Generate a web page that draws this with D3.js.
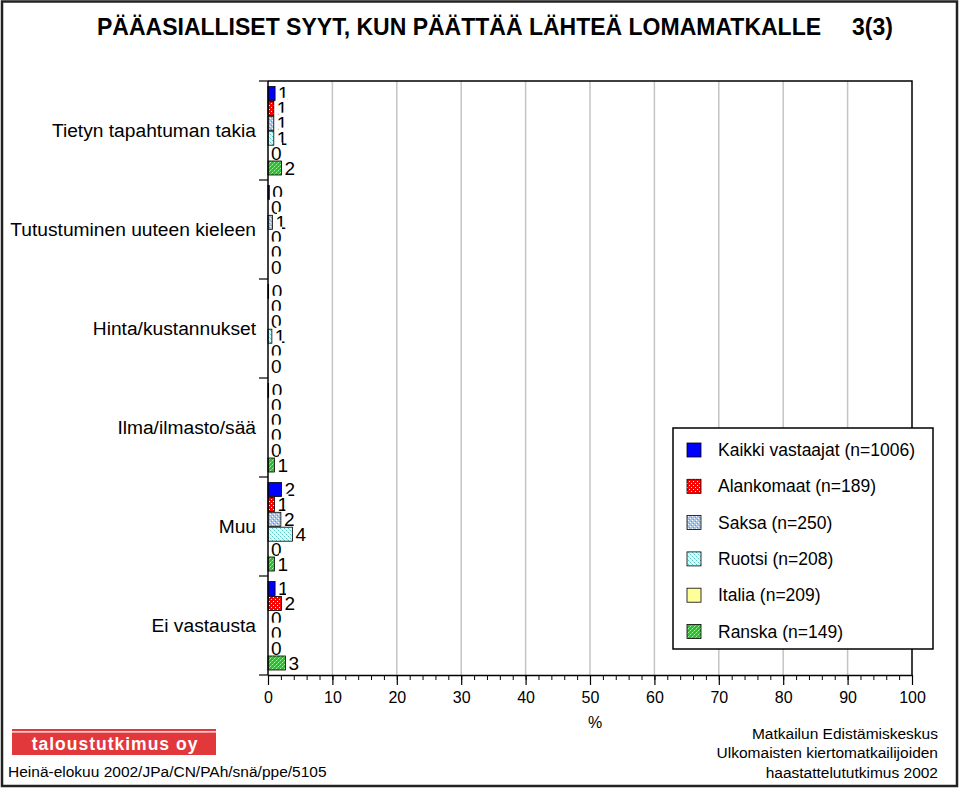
<!DOCTYPE html>
<html><head><meta charset="utf-8">
<script src="https://cdn.jsdelivr.net/npm/d3@7"></script>
<style>
body{margin:0;background:#fff}
svg{display:block}
text{font-family:"Liberation Sans",Arial,sans-serif;fill:#000}
</style>
</head><body>
<svg id="c" width="960" height="788"></svg>
<script>
// ---- data ----
const categories = ["Tietyn tapahtuman takia","Tutustuminen uuteen kieleen","Hinta/kustannukset","Ilma/ilmasto/sää","Muu","Ei vastausta"];
const seriesNames = ["Kaikki vastaajat (n=1006)","Alankomaat (n=189)","Saksa (n=250)","Ruotsi (n=208)","Italia (n=209)","Ranska (n=149)"];
const kaikki     = [1.1, 0.2, 0.1, 0.1, 2.1, 1.1];
const alankomaat = [0.9, 0.0, 0.0, 0.0, 1.0, 2.1];
const saksa      = [0.9, 0.7, 0.0, 0.0, 2.0, 0.0];
const ruotsi     = [0.9, 0.0, 0.6, 0.0, 3.8, 0.0];
const italia     = [0.0, 0.0, 0.0, 0.0, 0.0, 0.0];
const ranska     = [2.1, 0.0, 0.0, 1.0, 1.0, 2.7];
const xTicks = [0,10,20,30,40,50,60,70,80,90,100];
const xMinorTicks = d3.range(0, 101, 2);
const titleText = "PÄÄASIALLISET SYYT, KUN PÄÄTTÄÄ LÄHTEÄ LOMAMATKALLE";
const pageText = "3(3)";
const xLabel = "%";
const logoText = "taloustutkimus oy";
const footLeft = "Heinä-elokuu 2002/JPa/CN/PAh/snä/ppe/5105";
const footRight = ["Matkailun Edistämiskeskus","Ulkomaisten kiertomatkailijoiden","haastattelututkimus 2002"];

const seriesValues = [kaikki, alankomaat, saksa, ruotsi, italia, ranska];
const fills = ["#0000ff","url(#pRed)","url(#pSaksa)","url(#pRuotsi)","#ffff99","url(#pGreen)"];

const svg = d3.select("#c");

// ---- patterns ----
const defs = svg.append("defs");
function pat(id, base, dots, size){
  const p = defs.append("pattern").attr("id", id).attr("patternUnits","userSpaceOnUse")
    .attr("width", size).attr("height", size);
  p.append("rect").attr("width", size).attr("height", size).attr("fill", base);
  dots.forEach(d => p.append("rect").attr("x", d[0]).attr("y", d[1]).attr("width",1).attr("height",1).attr("fill", d[2]));
}
pat("pRed", "#ff0000", [[1,1,"#ffffff"],[3,3,"#ffdddd"]], 4);
pat("pSaksa", "#a0c6f0", [[0,0,"#ffffff"],[2,2,"#ffffff"],[1,3,"#6a9ad6"],[3,1,"#6a9ad6"]], 4);
pat("pRuotsi", "#d6fbfb", [[0,0,"#5fc4c4"],[2,2,"#5fc4c4"],[1,1,"#a0e6e6"],[3,3,"#a0e6e6"]], 4);
pat("pGreen", "#2ebd2e", [[0,0,"#a6f2a6"],[2,2,"#a6f2a6"],[1,3,"#66dd66"],[3,1,"#66dd66"]], 4);

// ---- scales ----
const plot = {left:268, right:912, top:81, bottom:675};
const x = d3.scaleLinear().domain([0,100]).range([plot.left, plot.right]);
const y0 = d3.scaleBand().domain(categories).range([plot.top, plot.bottom]);
const y1 = d3.scaleBand().domain(seriesNames).range([5.5, y0.bandwidth()-5]).paddingInner(0.06);

// outer frame
svg.append("rect").attr("x",2).attr("y",1.5).attr("width",955).attr("height",784.5)
  .attr("fill","none").attr("stroke","#222").attr("stroke-width",2.5);

// title
svg.append("text").attr("x",97).attr("y",35).attr("font-size",23).attr("font-weight","bold").text(titleText);
svg.append("text").attr("x",852).attr("y",35).attr("font-size",23).attr("font-weight","bold").text(pageText);

// gridlines
svg.append("g").selectAll("line").data(xTicks.filter(d => d>0 && d<100)).join("line")
  .attr("x1", d=>x(d)).attr("x2", d=>x(d)).attr("y1", plot.top).attr("y2", plot.bottom)
  .attr("stroke","#c4c4c4").attr("stroke-width",1.5);

// plot frame top/right
svg.append("path").attr("d", `M${plot.left},${plot.top}H${plot.right}V${plot.bottom}`)
  .attr("fill","none").attr("stroke","#000").attr("stroke-width",1.5);

// flattened data
const data = [];
categories.forEach((c, ci) => seriesNames.forEach((s, si) => {
  data.push({cat:c, ser:s, si, v: seriesValues[si][ci]});
}));

// labels with white background (drawn before bars)
const fmt = d3.format(".0f");
const lblG = svg.append("g");
data.forEach(d => {
  const cy = y0(d.cat) + y1(d.ser) + y1.bandwidth()/2;
  const lx = x(d.v) + 3;
  const base = cy + 6.8;
  const t = lblG.append("text").attr("x", lx).attr("y", base).attr("font-size",19).text(fmt(d.v));
  const w = t.node().getComputedTextLength();
  lblG.insert("rect", () => t.node()).attr("x", lx+1.5).attr("y", base-17.4).attr("width", w-1).attr("height", 20).attr("fill","#fff");
});

// bars
svg.append("g").selectAll("rect").data(data.filter(d => d.v > 0)).join("rect")
  .attr("x", x(0)).attr("y", d => y0(d.cat) + y1(d.ser))
  .attr("width", d => x(d.v) - x(0)).attr("height", y1.bandwidth())
  .attr("fill", d => fills[d.si]).attr("stroke","#000").attr("stroke-width",0.8);

// category labels
svg.append("g").selectAll("text").data(categories).join("text")
  .attr("x",256).attr("y", d => y0(d) + y0.bandwidth()/2).attr("dy","0.35em")
  .attr("text-anchor","end").attr("font-size",19.2).text(d => d);

// y axis line and category ticks
svg.append("line").attr("x1",plot.left).attr("x2",plot.left).attr("y1",plot.top).attr("y2",plot.bottom)
  .attr("stroke","#000").attr("stroke-width",1.5);
svg.append("g").selectAll("line").data(categories.map(c => y0(c)).concat([plot.bottom])).join("line")
  .attr("x1",259).attr("x2",plot.left).attr("y1", d=>d).attr("y2", d=>d)
  .attr("stroke","#000").attr("stroke-width",1.2);

// x axis
const minorAx = svg.append("g").attr("transform",`translate(0,${plot.bottom})`)
  .call(d3.axisBottom(x).tickValues(xMinorTicks).tickSize(5).tickFormat(""));
minorAx.select(".domain").remove();
minorAx.selectAll("line").attr("stroke","#000");
const ax = svg.append("g").attr("transform",`translate(0,${plot.bottom})`)
  .call(d3.axisBottom(x).tickValues(xTicks).tickSize(10).tickPadding(6.6).tickSizeOuter(0));
ax.select(".domain").attr("stroke","#000").attr("stroke-width",1.5);
ax.selectAll(".tick line").attr("stroke","#000").attr("stroke-width",1.2);
ax.selectAll(".tick text").attr("font-size",16).attr("font-family","Liberation Sans, Arial, sans-serif").attr("fill","#000");
svg.append("text").attr("x",595).attr("y",728).attr("text-anchor","middle").attr("font-size",16).text(xLabel);

// legend
const lg = svg.append("g");
lg.append("rect").attr("x",673).attr("y",428).attr("width",260).attr("height",221)
  .attr("fill","#fff").attr("stroke","#000").attr("stroke-width",1.5);
seriesNames.forEach((s, i) => {
  const cy = 450 + i*36.3;
  lg.append("rect").attr("x",687).attr("y",cy-7).attr("width",14).attr("height",14)
    .attr("fill",fills[i]).attr("stroke","#000").attr("stroke-width",0.8);
  lg.append("text").attr("x",718).attr("y",cy+6).attr("font-size",17.5).text(s);
});

// footer left (logo)
svg.append("rect").attr("x",12).attr("y",729).attr("width",204).attr("height",26).attr("fill","#e2383c");
svg.append("line").attr("x1",12).attr("x2",216).attr("y1",731.8).attr("y2",731.8).attr("stroke","#fff").attr("stroke-width",1.2);
svg.append("text").attr("x",115).attr("y",749.5).attr("text-anchor","middle").attr("font-size",17.5)
  .attr("font-weight","bold").attr("letter-spacing",1).style("fill","#fff").text(logoText);
svg.append("text").attr("x",8).attr("y",777).attr("font-size",15.5).text(footLeft);

// footer right
footRight.forEach((t,i) => {
  svg.append("text").attr("x",938).attr("y",739 + i*19.3).attr("text-anchor","end").attr("font-size",15.5).text(t);
});
</script>
</body></html>
